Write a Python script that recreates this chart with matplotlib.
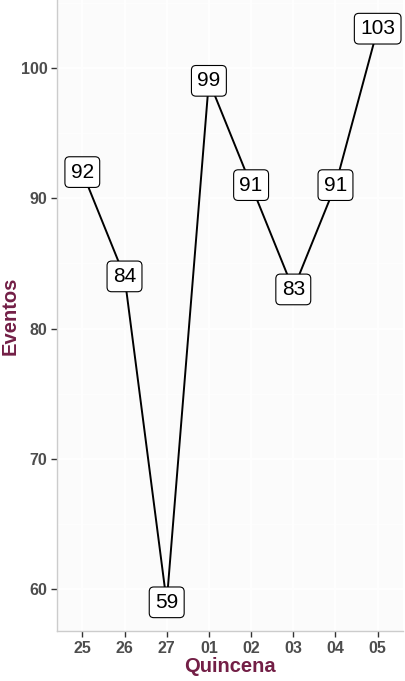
import matplotlib
matplotlib.use("Agg")
import matplotlib.pyplot as plt

quincenas = ["25", "26", "27", "01", "02", "03", "04", "05"]
eventos = [92, 84, 59, 99, 91, 83, 91, 103]
yticks = [60, 70, 80, 90, 100]

plt.rcParams["font.family"] = ["Liberation Sans", "DejaVu Sans"]

fig = plt.figure(figsize=(4.05, 6.81), dpi=100)
ax = fig.add_axes([57 / 405, 50 / 681, 346 / 405, 631 / 681])
ax.set_facecolor("#FBFBFB")

x = list(range(1, len(quincenas) + 1))
ax.plot(x, eventos, color="black", lw=1.4, zorder=3)
for xi, yi in zip(x, eventos):
    ax.text(xi, yi, str(yi), ha="center", va="center", fontsize=15, zorder=4,
            bbox=dict(boxstyle="round,pad=0.28,rounding_size=0.22", fc="white", ec="black", lw=0.8))

ax.set_xlim(0.4, 8.6)
ax.set_ylim(56.8, 105.2)
ax.set_xticks(x)
ax.set_xticklabels(quincenas)
ax.set_yticks(yticks)
ax.set_yticks([65, 75, 85, 95, 105], minor=True)
ax.set_xticks([], minor=True)

ax.grid(True, which="major", color="white", lw=1.1)
ax.grid(True, which="minor", axis="y", color="white", lw=0.5)
ax.set_axisbelow(True)

for side in ["top", "right"]:
    ax.spines[side].set_visible(False)
for side in ["left", "bottom"]:
    ax.spines[side].set_color("#CCCCCC")
    ax.spines[side].set_linewidth(1.0)

ax.tick_params(axis="both", which="major", length=4, width=1, color="#333333",
               labelcolor="#4D4D4D", labelsize=11.5, pad=3)
ax.tick_params(axis="y", which="minor", length=0)
for lab in ax.get_xticklabels() + ax.get_yticklabels():
    lab.set_fontweight("bold")

ax.set_xlabel("Quincena", fontsize=14.5, fontweight="bold", color="#731F46", labelpad=1)
ax.set_ylabel("Eventos", fontsize=14.5, fontweight="bold", color="#731F46")
ax.yaxis.set_label_coords(-0.108, 0.5)

fig.savefig("out.png", dpi=100)
